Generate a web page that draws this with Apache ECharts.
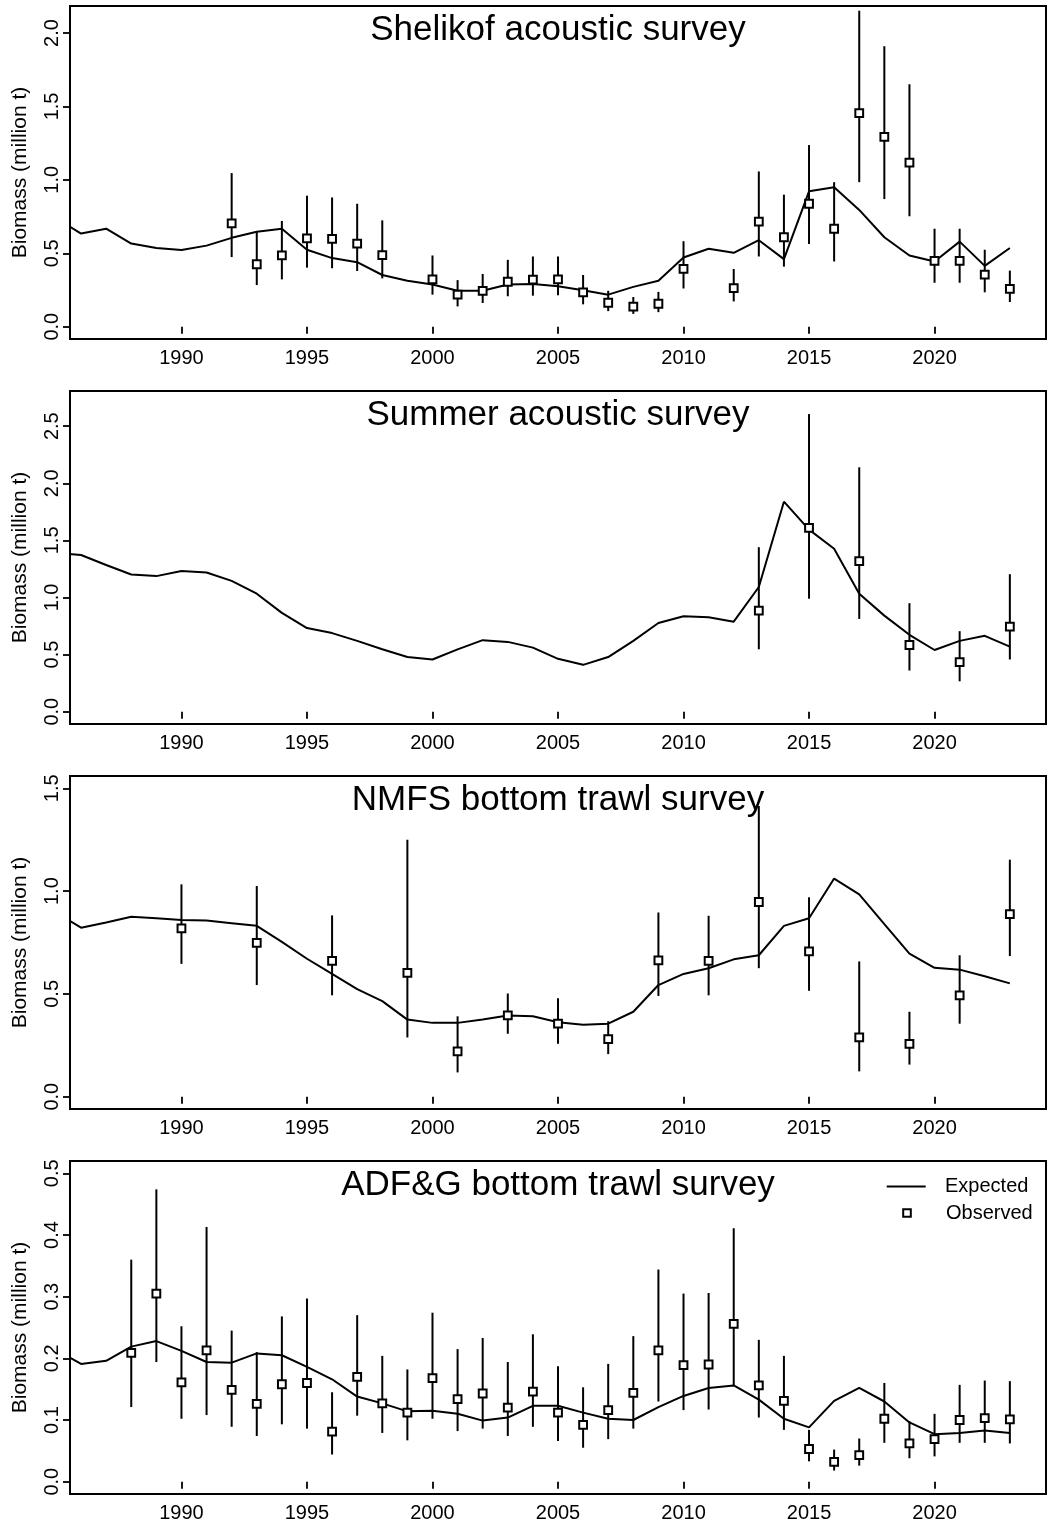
<!DOCTYPE html>
<html>
<head>
<meta charset="utf-8">
<script src="https://cdn.jsdelivr.net/npm/echarts@6/dist/echarts.min.js"></script>
<style>
  html, body { margin: 0; padding: 0; background: #fff; }
  #chart { width: 1051px; height: 1531px; }
</style>
</head>
<body>
<div id="chart"></div>
<script>
// Model years for the expected (fitted) biomass series
const years = [1985, 1986, 1987, 1988, 1989, 1990, 1991, 1992, 1993, 1994,
  1995, 1996, 1997, 1998, 1999, 2000, 2001, 2002, 2003, 2004,
  2005, 2006, 2007, 2008, 2009, 2010, 2011, 2012, 2013, 2014,
  2015, 2016, 2017, 2018, 2019, 2020, 2021, 2022, 2023];

const xTicks = [1990, 1995, 2000, 2005, 2010, 2015, 2020];

// Shelikof acoustic survey
const shelikofExpected = [0.740, 0.634, 0.667, 0.566, 0.536, 0.522, 0.552, 0.605, 0.646, 0.667,
  0.524, 0.467, 0.439, 0.352, 0.313, 0.287, 0.244, 0.244, 0.287, 0.290,
  0.276, 0.248, 0.218, 0.271, 0.313, 0.471, 0.531, 0.503, 0.589, 0.460,
  0.922, 0.949, 0.795, 0.609, 0.485, 0.444, 0.579, 0.414, 0.536];
const shelikofYears = [1992, 1993, 1994, 1995, 1996, 1997, 1998, 2000, 2001, 2002,
  2003, 2004, 2005, 2006, 2007, 2008, 2009, 2010, 2012, 2013,
  2014, 2015, 2016, 2017, 2018, 2019, 2020, 2021, 2022, 2023];
const shelikofObserved = [0.703, 0.425, 0.485, 0.602, 0.598, 0.566, 0.487, 0.322, 0.218, 0.244,
  0.306, 0.320, 0.322, 0.234, 0.163, 0.136, 0.156, 0.393, 0.262, 0.715,
  0.609, 0.837, 0.667, 1.455, 1.292, 1.117, 0.448, 0.448, 0.354, 0.257];
const shelikofLower = [0.474, 0.283, 0.322, 0.402, 0.398, 0.379, 0.329, 0.218, 0.138, 0.161,
  0.207, 0.211, 0.214, 0.152, 0.106, 0.087, 0.099, 0.260, 0.172, 0.478,
  0.409, 0.563, 0.444, 0.984, 0.869, 0.752, 0.299, 0.299, 0.234, 0.168];
const shelikofUpper = [1.046, 0.644, 0.720, 0.892, 0.880, 0.837, 0.724, 0.485, 0.317, 0.359,
  0.455, 0.478, 0.478, 0.352, 0.244, 0.202, 0.237, 0.582, 0.393, 1.057,
  0.899, 1.237, 0.984, 2.152, 1.910, 1.651, 0.667, 0.667, 0.524, 0.382];
const shelikofTicks = [0, 0.5, 1.0, 1.5, 2.0];

// Summer acoustic survey
const summerExpected = [1.392, 1.372, 1.284, 1.201, 1.187, 1.231, 1.219, 1.145, 1.033, 0.865,
  0.732, 0.688, 0.620, 0.546, 0.478, 0.457, 0.546, 0.626, 0.611, 0.561,
  0.463, 0.410, 0.478, 0.620, 0.776, 0.835, 0.826, 0.788, 1.092, 1.839,
  1.594, 1.426, 1.033, 0.841, 0.673, 0.540, 0.620, 0.664, 0.570];
const summerYears = [2013, 2015, 2017, 2019, 2021, 2023];
const summerObserved = [0.885, 1.609, 1.319, 0.584, 0.434, 0.744];
const summerLower = [0.546, 0.989, 0.812, 0.360, 0.266, 0.457];
const summerUpper = [1.440, 2.606, 2.140, 0.950, 0.705, 1.204];
const summerTicks = [0, 0.5, 1.0, 1.5, 2.0, 2.5];

// NMFS bottom trawl survey
const nmfsExpected = [0.897, 0.822, 0.847, 0.875, 0.868, 0.860, 0.857, 0.844, 0.831, 0.753,
  0.671, 0.597, 0.523, 0.465, 0.375, 0.359, 0.359, 0.375, 0.395, 0.391,
  0.362, 0.350, 0.355, 0.413, 0.543, 0.597, 0.625, 0.668, 0.688, 0.831,
  0.868, 1.061, 0.984, 0.839, 0.696, 0.627, 0.618, 0.586, 0.551];
const nmfsYears = [1990, 1993, 1996, 1999, 2001, 2003, 2005, 2007, 2009, 2011,
  2013, 2015, 2017, 2019, 2021, 2023];
const nmfsObserved = [0.819, 0.748, 0.661, 0.602, 0.220, 0.395, 0.355, 0.280, 0.663, 0.661,
  0.947, 0.707, 0.288, 0.257, 0.493, 0.888];
const nmfsLower = [0.646, 0.543, 0.493, 0.288, 0.118, 0.306, 0.257, 0.207, 0.490, 0.493,
  0.625, 0.515, 0.123, 0.156, 0.355, 0.684];
const nmfsUpper = [1.033, 1.025, 0.882, 1.250, 0.391, 0.502, 0.479, 0.367, 0.896, 0.880,
  1.414, 0.970, 0.658, 0.413, 0.688, 1.153];
const nmfsTicks = [0, 0.5, 1.0, 1.5];

// ADF&G bottom trawl survey
const adfgExpected = [0.214, 0.191, 0.196, 0.219, 0.228, 0.212, 0.194, 0.193, 0.208, 0.205,
  0.186, 0.166, 0.138, 0.127, 0.114, 0.115, 0.110, 0.099, 0.104, 0.123,
  0.123, 0.112, 0.102, 0.100, 0.121, 0.139, 0.152, 0.156, 0.133, 0.102,
  0.088, 0.131, 0.152, 0.130, 0.096, 0.077, 0.079, 0.083, 0.079];
const adfgYears = [1988, 1989, 1990, 1991, 1992, 1993, 1994, 1995, 1996, 1997,
  1998, 1999, 2000, 2001, 2002, 2003, 2004, 2005, 2006, 2007,
  2008, 2009, 2010, 2011, 2012, 2013, 2014, 2015, 2016, 2017,
  2018, 2019, 2020, 2021, 2022, 2023];
const adfgObserved = [0.209, 0.305, 0.161, 0.213, 0.149, 0.126, 0.158, 0.160, 0.081, 0.170,
  0.127, 0.112, 0.168, 0.134, 0.143, 0.120, 0.146, 0.112, 0.092, 0.116,
  0.144, 0.213, 0.189, 0.190, 0.256, 0.156, 0.131, 0.053, 0.032, 0.043,
  0.102, 0.062, 0.069, 0.100, 0.103, 0.101];
const adfgLower = [0.121, 0.194, 0.102, 0.108, 0.089, 0.074, 0.093, 0.086, 0.044, 0.107,
  0.079, 0.067, 0.102, 0.082, 0.086, 0.074, 0.089, 0.066, 0.055, 0.069,
  0.086, 0.130, 0.116, 0.117, 0.156, 0.104, 0.084, 0.033, 0.018, 0.026,
  0.063, 0.038, 0.041, 0.063, 0.063, 0.062];
const adfgUpper = [0.360, 0.474, 0.252, 0.413, 0.245, 0.210, 0.268, 0.297, 0.145, 0.270,
  0.204, 0.182, 0.274, 0.215, 0.233, 0.194, 0.239, 0.187, 0.153, 0.191,
  0.236, 0.344, 0.305, 0.306, 0.411, 0.230, 0.204, 0.084, 0.052, 0.070,
  0.160, 0.098, 0.110, 0.157, 0.164, 0.163];
const adfgTicks = [0, 0.1, 0.2, 0.3, 0.4, 0.5];

// Panel set-up: each panel gets its own grid and axes
const panels = [
  { title: 'Shelikof acoustic survey', expected: shelikofExpected, obsYears: shelikofYears,
    observed: shelikofObserved, lower: shelikofLower, upper: shelikofUpper,
    ticks: shelikofTicks, yMin: -0.084, yMax: 2.184 },
  { title: 'Summer acoustic survey', expected: summerExpected, obsYears: summerYears,
    observed: summerObserved, lower: summerLower, upper: summerUpper,
    ticks: summerTicks, yMin: -0.108, yMax: 2.808 },
  { title: 'NMFS bottom trawl survey', expected: nmfsExpected, obsYears: nmfsYears,
    observed: nmfsObserved, lower: nmfsLower, upper: nmfsUpper,
    ticks: nmfsTicks, yMin: -0.06, yMax: 1.56 },
  { title: 'ADF&G bottom trawl survey', expected: adfgExpected, obsYears: adfgYears,
    observed: adfgObserved, lower: adfgLower, upper: adfgUpper,
    ticks: adfgTicks, yMin: -0.02, yMax: 0.52 }
];

const FONT = '"Liberation Sans", Arial, Helvetica, sans-serif';
const GRID_LEFT = 70, GRID_WIDTH = 976, GRID_HEIGHT = 333;
const GRID_TOPS = [6, 391, 776, 1161];
const X_MIN = 1985.56, X_MAX = 2024.44;

const grids = [], xAxes = [], yAxes = [], titles = [], series = [];

panels.forEach((p, i) => {
  grids.push({
    left: GRID_LEFT, top: GRID_TOPS[i], width: GRID_WIDTH, height: GRID_HEIGHT,
    show: true, borderColor: '#000', borderWidth: 2, backgroundColor: 'transparent',
    containLabel: false
  });
  xAxes.push({
    type: 'value', gridIndex: i, min: X_MIN, max: X_MAX,
    axisLine: { show: false },
    splitLine: { show: false },
    axisTick: { show: true, inside: false, length: 7, customValues: xTicks,
      lineStyle: { color: '#000', width: 1.8 } },
    axisLabel: { show: true, customValues: xTicks, margin: 9, color: '#000',
      fontFamily: FONT, fontSize: 20, formatter: v => String(Math.round(v)) }
  });
  yAxes.push({
    type: 'value', gridIndex: i, min: p.yMin, max: p.yMax,
    name: 'Biomass (million t)', nameLocation: 'middle', nameGap: 39, nameRotate: 90,
    nameTextStyle: { color: '#000', fontFamily: FONT, fontSize: 21 },
    axisLine: { show: false },
    splitLine: { show: false },
    axisTick: { show: true, inside: false, length: 7, customValues: p.ticks,
      lineStyle: { color: '#000', width: 1.8 } },
    axisLabel: { show: true, customValues: p.ticks, rotate: 90, margin: 8, color: '#000',
      fontFamily: FONT, fontSize: 20, formatter: v => v.toFixed(1) }
  });
  titles.push({
    text: p.title, left: GRID_LEFT + GRID_WIDTH / 2, top: GRID_TOPS[i] + 24,
    textAlign: 'center', textVerticalAlign: 'middle', padding: 0,
    textStyle: { color: '#000', fontFamily: FONT, fontSize: 35, fontWeight: 'normal' }
  });

  // Expected biomass line
  series.push({
    name: 'Expected', type: 'line', xAxisIndex: i, yAxisIndex: i,
    data: years.map((y, k) => [y, p.expected[k]]),
    symbol: 'none', showSymbol: false, clip: true, z: 2,
    lineStyle: { color: '#000', width: 2 },
    itemStyle: { color: '#000' }
  });

  // Observed biomass confidence intervals
  series.push({
    name: 'Interval', type: 'custom', xAxisIndex: i, yAxisIndex: i, clip: true, z: 3,
    data: p.obsYears.map((y, k) => [y, p.lower[k], p.upper[k]]),
    encode: { x: 0, y: [1, 2] },
    renderItem: (params, api) => {
      const a = api.coord([api.value(0), api.value(1)]);
      const b = api.coord([api.value(0), api.value(2)]);
      return {
        type: 'line',
        shape: { x1: a[0], y1: a[1], x2: b[0], y2: b[1] },
        style: { stroke: '#000', lineWidth: 2 }
      };
    }
  });

  // Observed biomass points
  series.push({
    name: 'Observed', type: 'scatter', xAxisIndex: i, yAxisIndex: i, z: 4,
    data: p.obsYears.map((y, k) => [y, p.observed[k]]),
    symbol: 'rect', symbolSize: 7.8,
    itemStyle: { color: '#fff', borderColor: '#000', borderWidth: 2, opacity: 1 }
  });
});

const chart = echarts.init(document.getElementById('chart'), null, { renderer: 'canvas' });
chart.setOption({
  animation: false,
  backgroundColor: '#fff',
  title: titles,
  grid: grids,
  xAxis: xAxes,
  yAxis: yAxes,
  legend: [
    { data: [{ name: 'Expected', icon: 'rect', itemStyle: { color: '#000', borderWidth: 0 } }],
      orient: 'vertical', left: 886.7, top: 1175.5, padding: 0,
      itemWidth: 39, itemHeight: 2, selectedMode: false,
      textStyle: { color: '#000', fontFamily: FONT, fontSize: 20, lineHeight: 22,
        padding: [0, 0, 0, 14.3] } },
    { data: ['Observed'], orient: 'vertical', left: 902.2, top: 1202, padding: 0,
      itemWidth: 7.6, itemHeight: 7.6, icon: 'rect', selectedMode: false,
      textStyle: { color: '#000', fontFamily: FONT, fontSize: 20, lineHeight: 22,
        padding: [0, 0, 0, 30.2] } }
  ],
  series: series
});
</script>
</body>
</html>
